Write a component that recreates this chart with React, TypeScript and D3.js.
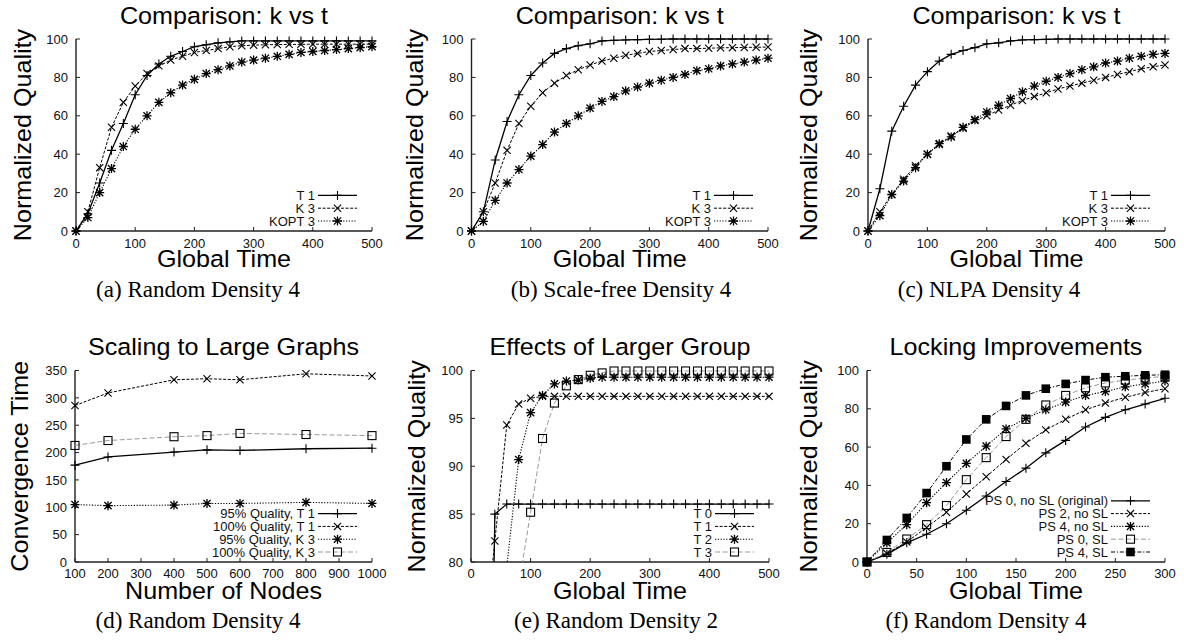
import React from 'react';
import * as d3 from 'd3';

// x values
const time500 = [0, 20, 40, 60, 80, 100, 120, 140, 160, 180, 200, 220, 240, 260, 280, 300, 320, 340, 360, 380, 400, 420, 440, 460, 480, 500];
const time300 = [0, 20, 40, 60, 80, 100, 120, 140, 160, 180, 200, 220, 240, 260, 280, 300];
const nodeCounts = [100, 200, 400, 500, 600, 800, 1000];

// (a) Random Density 4
const aT1 = [0, 9, 25, 42, 56, 71, 81, 87, 91, 93.5, 96, 97, 98, 98.5, 99, 99, 99, 99, 99, 99, 99, 99, 99, 99, 99, 99];
const aK3 = [0, 10, 33, 54, 67, 75.5, 82, 86, 89, 91, 93, 94, 95, 96, 96.5, 96.8, 97, 97.1, 97.2, 97.2, 97.3, 97.3, 97.3, 97.3, 97.3, 97.3];
const aKOPT3 = [0, 7, 20, 32.5, 44, 53, 60, 67, 72, 76, 79, 82, 84, 86, 88, 89, 90, 91, 92, 93, 93.5, 94, 94.5, 95, 95.5, 96];

// (b) Scale-free Density 4
const bT1 = [0, 10, 37, 57, 71, 81, 87.5, 92.5, 95, 96.5, 97.5, 99, 99.3, 99.5, 99.7, 99.8, 99.9, 100, 100, 100, 100, 100, 100, 100, 100, 100];
const bK3 = [0, 10, 25, 42, 56, 65, 72, 77, 81, 84, 86.5, 88.5, 90, 91.5, 92.5, 93.5, 94, 94.5, 95, 95, 95.2, 95.4, 95.5, 95.6, 95.7, 95.8];
const bKOPT3 = [0, 5, 16, 25, 32, 39, 45, 51.5, 56, 60, 64, 67.5, 70, 73, 75, 77, 78.5, 80, 81.5, 83.5, 84.5, 86, 87, 88, 89, 90];

// (c) NLPA Density 4
const cT1 = [0, 22, 52, 65, 76, 83, 88.5, 92, 94, 95.5, 97.5, 98, 99, 99.5, 99.7, 99.8, 100, 100, 100, 100, 100, 100, 100, 100, 100, 100];
const cK3 = [0, 10, 19, 27, 34, 40, 45, 49.5, 53.5, 57.5, 60, 63, 65.5, 68, 70, 72, 74, 75.5, 77, 78.5, 80, 81.5, 83, 84.5, 85.5, 86.5];
const cKOPT3 = [0, 8, 19, 26, 33, 40, 45.5, 49, 54, 58, 62, 65.5, 69, 72.5, 75.5, 78, 80, 82, 84, 85.5, 87.5, 88.5, 90, 91, 92, 92.5];

// (d) Scaling to large graphs
const d95T1 = [177, 192, 201, 205, 204, 207, 208];
const d100T1 = [286, 309, 333, 335, 333, 344, 340];
const d95K3 = [105, 103, 104, 107, 107, 109, 107];
const d100K3 = [213, 222, 229, 231, 235, 233, 231];

// (e) Random Density 2
const eT0 = [0, 5, 85, 86.05, 86.05, 86.05, 86.05, 86.05, 86.05, 86.05, 86.05, 86.05, 86.05, 86.05, 86.05, 86.05, 86.05, 86.05, 86.05, 86.05, 86.05, 86.05, 86.05, 86.05, 86.05, 86.05];
const eT1 = [0, 70, 82.2, 94.3, 96.5, 97.1, 97.3, 97.3, 97.3, 97.3, 97.3, 97.3, 97.3, 97.3, 97.3, 97.3, 97.3, 97.3, 97.3, 97.3, 97.3, 97.3, 97.3, 97.3, 97.3, 97.3];
const eT2 = [0, 30, 60, 79.5, 90.7, 95.6, 97.4, 98.6, 98.9, 99.0, 99.2, 99.3, 99.3, 99.3, 99.3, 99.3, 99.3, 99.3, 99.3, 99.3, 99.3, 99.3, 99.3, 99.3, 99.3, 99.3];
const eT3 = [0, 10, 30, 50, 77.5, 85.2, 92.9, 96.6, 98.4, 99.05, 99.5, 99.75, 99.95, 99.95, 99.95, 99.95, 99.95, 99.95, 99.95, 99.95, 99.95, 99.95, 99.95, 99.95, 99.95, 99.95];

// (f) Locking improvements
const fPS0 = [0, 4, 10, 14.5, 20, 27, 34.5, 42, 49, 57, 63.5, 70.5, 75.5, 79.5, 82.5, 85.5];
const fPS2 = [0, 4.5, 10.5, 18, 26, 35.5, 44.5, 53.5, 62, 69, 74.5, 79.5, 83, 86, 88.5, 90.5];
const fPS4 = [0, 10, 19.5, 31, 41.5, 51.5, 60.5, 69.5, 75, 79.5, 83.5, 87, 89, 91.5, 93, 94.5];
const fPS0SL = [0, 5, 12, 19.5, 29.5, 43, 54.5, 65.5, 74.5, 82, 87, 91, 93.5, 95, 96, 97];
const fPS4SL = [0, 11.5, 23, 36, 50, 64, 74.5, 81.5, 87, 90.5, 93, 95, 96.5, 97, 97.5, 97.8];

const SANS = "'Liberation Sans', Arial, Helvetica, sans-serif";
const SERIF = "'Liberation Serif', 'Times New Roman', serif";

const lineStyles = [
  { stroke: '#000', dash: undefined, width: 1.3 },
  { stroke: '#000', dash: '3,1.6', width: 1 },
  { stroke: '#000', dash: '1.2,1.6', width: 1.1 },
  { stroke: '#999', dash: '5,2.5', width: 1 },
  { stroke: '#000', dash: '4,1.8,1.2,1.8', width: 1 },
];

type Series = { label: string; values: number[]; style: number; marker: string };

function Marker({ kind, x, y }: { kind: string; x: number; y: number }) {
  const s = 4.5;
  const c = 3.6;
  const common = { stroke: '#000', strokeWidth: 1.1, fill: 'none' };
  if (kind === 'plus') return <path d={`M${x - s},${y}H${x + s}M${x},${y - s}V${y + s}`} {...common} />;
  if (kind === 'cross') return <path d={`M${x - c},${y - c}L${x + c},${y + c}M${x - c},${y + c}L${x + c},${y - c}`} {...common} />;
  if (kind === 'star')
    return (
      <path
        d={`M${x - s},${y}H${x + s}M${x},${y - s}V${y + s}M${x - c},${y - c}L${x + c},${y + c}M${x - c},${y + c}L${x + c},${y - c}`}
        {...common}
        strokeWidth={1.3}
      />
    );
  if (kind === 'square') return <rect x={x - 4} y={y - 4} width={8} height={8} {...common} />;
  if (kind === 'fsquare') return <rect x={x - 4.3} y={y - 4.3} width={8.6} height={8.6} fill="#000" />;
  return null;
}

// big sans labels in the figure are slightly wider than plain Helvetica
function BigText({ x, y, rotate = 0, children }: { x: number; y: number; rotate?: number; children: string }) {
  return (
    <text transform={`translate(${x},${y}) rotate(${rotate}) scale(1.07,1)`} textAnchor="middle"
      fontFamily={SANS} fontSize={23.5} fill="#000">{children}</text>
  );
}

type PanelProps = {
  id: string;
  left: number; right: number; top: number; bottom: number;
  xs: number[];
  xDomain: [number, number];
  yDomain: [number, number];
  xTicks: number[];
  yTicks: number[];
  series: Series[];
  title: string;
  xLabel: string;
  yLabel: string;
  yLabelX: number;
  caption: string;
  captionX: number;
  titleY: number;
  xLabelY: number;
  tickY: number;
  captionY: number;
};

function Panel(p: PanelProps) {
  const x = d3.scaleLinear().domain(p.xDomain).range([p.left, p.right]);
  const y = d3.scaleLinear().domain(p.yDomain).range([p.bottom, p.top]);
  const line = d3.line<number>().x((_, i) => x(p.xs[i])).y((v) => y(v));
  const cx = (p.left + p.right) / 2;
  const cy = (p.top + p.bottom) / 2;
  const legendRight = p.right - 57;
  const n = p.series.length;

  return (
    <g>
      <defs>
        <clipPath id={`clip-${p.id}`}>
          <rect x={p.left - 6} y={p.top - 8} width={p.right - p.left + 12} height={p.bottom - p.top + 8} />
        </clipPath>
      </defs>

      {/* axes */}
      <line x1={p.left} x2={p.right} y1={p.bottom} y2={p.bottom} stroke="#222" strokeWidth={1.4} />
      <line x1={p.left} x2={p.left} y1={p.top} y2={p.bottom} stroke="#222" strokeWidth={1.4} />
      {p.xTicks.map((t) => (
        <g key={`xt${t}`}>
          <line x1={x(t)} x2={x(t)} y1={p.bottom} y2={p.bottom - 4} stroke="#222" strokeWidth={1} />
          <text x={x(t)} y={p.tickY} textAnchor="middle" fontFamily={SANS} fontSize={13} fill="#111">{t}</text>
        </g>
      ))}
      {p.yTicks.map((t) => (
        <g key={`yt${t}`}>
          <line x1={p.left} x2={p.left + 4} y1={y(t)} y2={y(t)} stroke="#222" strokeWidth={1} />
          <text x={p.left - 8} y={y(t)} dy="0.36em" textAnchor="end" fontFamily={SANS} fontSize={13} fill="#111">{t}</text>
        </g>
      ))}

      {/* series */}
      <g clipPath={`url(#clip-${p.id})`}>
        {p.series.map((s, k) => {
          const st = lineStyles[s.style];
          return (
            <path key={`l${k}`} d={line(s.values) || ''} fill="none" stroke={st.stroke}
              strokeWidth={st.width} strokeDasharray={st.dash} />
          );
        })}
      </g>
      {p.series.map((s, k) => (
        <g key={`m${k}`}>
          {s.values.map((v, i) =>
            v >= p.yDomain[0] && v <= p.yDomain[1] ? (
              <Marker key={i} kind={s.marker} x={x(p.xs[i])} y={y(v)} />
            ) : null
          )}
        </g>
      ))}

      {/* legend */}
      {p.series.map((s, k) => {
        const ly = p.bottom - 10 - (n - 1 - k) * 12.8;
        const st = lineStyles[s.style];
        const x1 = p.right - 54;
        const x2 = p.right - 15;
        return (
          <g key={`lg${k}`}>
            <text x={legendRight} y={ly} dy="0.36em" textAnchor="end" fontFamily={SANS} fontSize={13} fill="#111">{s.label}</text>
            <line x1={x1} x2={x2} y1={ly} y2={ly} stroke={st.stroke} strokeWidth={st.width} strokeDasharray={st.dash} />
            <Marker kind={s.marker} x={(x1 + x2) / 2} y={ly} />
          </g>
        );
      })}

      {/* labels */}
      <BigText x={cx} y={p.titleY}>{p.title}</BigText>
      <BigText x={cx} y={p.xLabelY}>{p.xLabel}</BigText>
      <BigText x={p.yLabelX} y={cy} rotate={-90}>{p.yLabel}</BigText>
      <text x={p.captionX} y={p.captionY} textAnchor="middle" fontFamily={SERIF} fontSize={23} fill="#000">{p.caption}</text>
    </g>
  );
}

const ticks500 = [0, 100, 200, 300, 400, 500];
const ticksQ = [0, 20, 40, 60, 80, 100];

export default function App() {
  const row1 = { top: 39, bottom: 231, titleY: 24, xLabelY: 266.5, tickY: 247.5, captionY: 296.5 };
  const row2 = { top: 370.5, bottom: 562, titleY: 355, xLabelY: 598.5, tickY: 578, captionY: 628 };

  const kvst = (t1: number[], k3: number[], kopt: number[]): Series[] => [
    { label: 'T 1', values: t1, style: 0, marker: 'plus' },
    { label: 'K 3', values: k3, style: 1, marker: 'cross' },
    { label: 'KOPT 3', values: kopt, style: 2, marker: 'star' },
  ];

  return (
    <svg width={1184} height={641} style={{ position: 'absolute', left: 0, top: 0, background: '#fff' }}>
      <rect width={1184} height={641} fill="#fff" />
      <Panel id="a" left={76} right={372} {...row1} xs={time500} xDomain={[0, 500]} yDomain={[0, 100]}
        xTicks={ticks500} yTicks={ticksQ} series={kvst(aT1, aK3, aKOPT3)}
        title="Comparison: k vs t" xLabel="Global Time" yLabel="Normalized Quality" yLabelX={31}
        caption="(a) Random Density 4" captionX={198} />
      <Panel id="b" left={471.5} right={768} {...row1} xs={time500} xDomain={[0, 500]} yDomain={[0, 100]}
        xTicks={ticks500} yTicks={ticksQ} series={kvst(bT1, bK3, bKOPT3)}
        title="Comparison: k vs t" xLabel="Global Time" yLabel="Normalized Quality" yLabelX={423}
        caption="(b) Scale-free Density 4" captionX={621} />
      <Panel id="c" left={868} right={1165} {...row1} xs={time500} xDomain={[0, 500]} yDomain={[0, 100]}
        xTicks={ticks500} yTicks={ticksQ} series={kvst(cT1, cK3, cKOPT3)}
        title="Comparison: k vs t" xLabel="Global Time" yLabel="Normalized Quality" yLabelX={817}
        caption="(c) NLPA Density 4" captionX={989} />
      <Panel id="d" left={75} right={372} {...row2} xs={nodeCounts} xDomain={[100, 1000]} yDomain={[0, 350]}
        xTicks={[100, 200, 300, 400, 500, 600, 700, 800, 900, 1000]} yTicks={[0, 50, 100, 150, 200, 250, 300, 350]}
        series={[
          { label: '95% Quality, T 1', values: d95T1, style: 0, marker: 'plus' },
          { label: '100% Quality, T 1', values: d100T1, style: 1, marker: 'cross' },
          { label: '95% Quality, K 3', values: d95K3, style: 2, marker: 'star' },
          { label: '100% Quality, K 3', values: d100K3, style: 3, marker: 'square' },
        ]}
        title="Scaling to Large Graphs" xLabel="Number of Nodes" yLabel="Convergence Time" yLabelX={28}
        caption="(d) Random Density 4" captionX={198} />
      <Panel id="e" left={471} right={769} {...row2} xs={time500} xDomain={[0, 500]} yDomain={[80, 100]}
        xTicks={ticks500} yTicks={[80, 85, 90, 95, 100]}
        series={[
          { label: 'T 0', values: eT0, style: 0, marker: 'plus' },
          { label: 'T 1', values: eT1, style: 1, marker: 'cross' },
          { label: 'T 2', values: eT2, style: 2, marker: 'star' },
          { label: 'T 3', values: eT3, style: 3, marker: 'square' },
        ]}
        title="Effects of Larger Group" xLabel="Global Time" yLabel="Normalized Quality" yLabelX={425}
        caption="(e) Random Density 2" captionX={616} />
      <Panel id="f" left={867} right={1165} {...row2} xs={time300} xDomain={[0, 300]} yDomain={[0, 100]}
        xTicks={[0, 50, 100, 150, 200, 250, 300]} yTicks={ticksQ}
        series={[
          { label: 'PS 0, no SL (original)', values: fPS0, style: 0, marker: 'plus' },
          { label: 'PS 2, no SL', values: fPS2, style: 1, marker: 'cross' },
          { label: 'PS 4, no SL', values: fPS4, style: 2, marker: 'star' },
          { label: 'PS 0, SL', values: fPS0SL, style: 3, marker: 'square' },
          { label: 'PS 4, SL', values: fPS4SL, style: 4, marker: 'fsquare' },
        ]}
        title="Locking Improvements" xLabel="Global Time" yLabel="Normalized Quality" yLabelX={817}
        caption="(f) Random Density 4" captionX={986} />
    </svg>
  );
}
